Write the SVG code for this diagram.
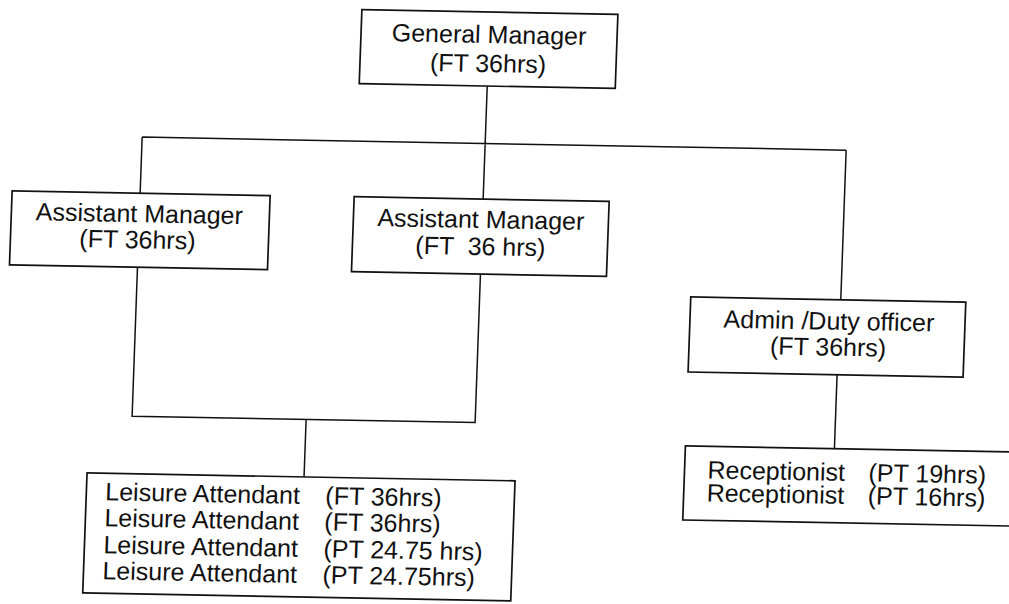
<svg xmlns="http://www.w3.org/2000/svg" width="1009" height="604" viewBox="0 0 1009 604">
  <style>
    .box { fill: #ffffff; stroke: #111111; stroke-width: 1.7; }
    .conn { fill: none; stroke: #111111; stroke-width: 1.5; }
    text { font-family: "Liberation Sans", Arial, sans-serif; font-size: 25px; fill: #111111; }
    .c { text-anchor: middle; }
    .pre { white-space: pre; }
  </style>
  <rect x="0" y="0" width="1009" height="604" fill="#ffffff"/>
  <g transform="matrix(1 0.0185 -0.036 1 0 0)">
    <g id="connectors">
      <path class="conn" d="M490,77 V190 M147,134.4 H851 M147,134.4 V190.5 M851,134.4 V284"/>
      <path class="conn" d="M147,264 V413.5 H490 V265 M321,413.5 V471"/>
      <path class="conn" d="M850,359 V433"/>
    </g>
    <g id="general-manager">
      <rect class="box" x="362" y="3" width="256" height="74"/>
      <text class="c" x="490" y="34">General Manager</text>
      <text class="c" x="490" y="63">(FT 36hrs)</text>
    </g>
    <g id="assistant-manager-1">
      <rect class="box" x="19" y="190.5" width="258" height="74"/>
      <text class="c" x="147" y="219.5">Assistant Manager</text>
      <text class="c" x="146" y="245.5">(FT 36hrs)</text>
    </g>
    <g id="assistant-manager-2">
      <rect class="box" x="361" y="190" width="255" height="75"/>
      <text class="c" x="488.5" y="219">Assistant Manager</text>
      <text class="c pre" x="489" y="246" xml:space="preserve">(FT  36 hrs)</text>
    </g>
    <g id="admin-duty-officer">
      <rect class="box" x="701" y="284" width="275" height="75"/>
      <text class="c" x="840" y="314">Admin /Duty officer</text>
      <text class="c" x="840" y="340">(FT 36hrs)</text>
    </g>
    <g id="receptionists">
      <rect class="box" x="701" y="433" width="340" height="74"/>
      <text x="724" y="465">Receptionist</text>
      <text x="885" y="465">(PT 19hrs)</text>
      <text x="724" y="488">Receptionist</text>
      <text x="885" y="488">(PT 16hrs)</text>
    </g>
    <g id="leisure-attendants">
      <rect class="box" x="104" y="471" width="428" height="120"/>
      <text x="123" y="498">Leisure Attendant</text>
      <text x="343" y="498">(FT 36hrs)</text>
      <text x="123" y="524">Leisure Attendant</text>
      <text x="343" y="524">(FT 36hrs)</text>
      <text x="123" y="551">Leisure Attendant</text>
      <text x="343" y="551">(PT 24.75 hrs)</text>
      <text x="123" y="577">Leisure Attendant</text>
      <text x="343" y="577">(PT 24.75hrs)</text>
    </g>
  </g>
</svg>
